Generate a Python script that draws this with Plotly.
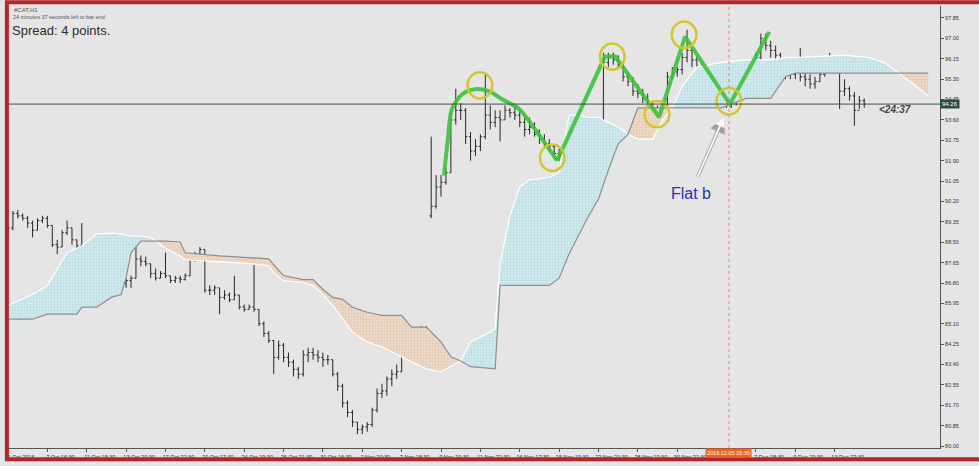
import numpy as np
import plotly.graph_objects as go

# ---- price bars (2-hour bars) ----
bar_open = [
    88.6, 89.1, 89.7, 89.6, 89.5, 89.3, 89.0, 89.4, 89.5, 89.2,
    88.4, 88.3, 88.9, 89.1, 88.6, 88.35, 88.0, 87.7, 87.5, 87.5,
    87.6, 87.5, 87.6, 86.6, 86.8, 86.9, 87.0, 87.8, 87.7, 87.6,
    87.2, 87.0, 87.2, 87.1, 86.9, 87.0, 86.95, 87.1, 87.8, 88.0,
    88.2, 86.5, 86.5, 86.6, 86.2, 86.3, 86.1, 86.3, 85.8, 85.7,
    85.8, 85.7, 85.1, 84.7, 84.4, 83.7, 84.2, 83.7, 83.5, 83.2,
    83.0, 83.8, 83.9, 83.8, 83.7, 83.6, 83.6, 83.0, 82.5, 81.8,
    81.4, 81.0, 80.7, 80.8, 80.9, 81.5, 82.2, 82.3, 82.8, 83.0,
    83.1, 83.8, 84.0, 84.3, 84.7, 84.9, 89.6, 90.0, 90.8, 91.0,
    91.4, 93.6, 94.0, 94.0, 92.9, 92.3, 92.5, 92.9, 93.8, 93.5,
    93.7, 93.6, 94.0, 93.9, 93.8, 93.5, 93.2, 93.3, 93.0, 92.8,
    92.6, 92.5, 92.2, 92.1, 92.4, 93.5, 93.1, 93.0, 93.2, 93.3,
    93.5, 93.5, 96.0, 96.2, 96.1, 95.9, 95.4, 95.2, 94.8, 94.7,
    94.5, 94.3, 94.1, 93.8, 94.0, 95.4, 95.6, 95.7, 96.2, 96.5,
    96.1, 95.6, 95.5, 95.3, 95.2, 94.8, 94.7, 94.4, 94.5, 94.6,
    94.9, 95.2, 95.5, 96.2, 97.0, 96.7, 96.5, 96.3, 95.8, 95.5,
    95.5, 95.6, 95.4, 95.3, 95.1, 95.2, 95.5, 95.9, 96.2, 96.0,
    94.8, 94.9, 94.6, 94.0, 94.4,
]
bar_high = [
    89.2, 89.8, 89.85, 89.7, 89.6, 89.4, 89.5, 89.6, 89.6, 89.2,
    88.6, 89.0, 89.4, 89.1, 88.6, 89.3, 88.3, 87.9, 87.7, 87.7,
    87.7, 87.7, 87.6, 87.0, 87.0, 87.1, 88.4, 87.95, 87.9, 87.6,
    87.4, 87.3, 88.06, 87.1, 87.1, 87.1, 87.2, 87.9, 88.1, 88.3,
    88.2, 86.7, 86.7, 86.6, 86.5, 86.4, 87.1, 86.3, 85.9, 85.9,
    87.56, 85.7, 85.2, 84.8, 84.4, 84.4, 84.3, 83.9, 83.6, 83.3,
    84.0, 84.1, 84.1, 84.0, 83.9, 83.8, 83.6, 83.1, 82.6, 81.9,
    81.5, 81.0, 80.9, 81.0, 81.6, 82.4, 82.6, 82.9, 83.2, 83.4,
    83.9, 84.2, 84.5, 84.9, 85.0, 85.0, 92.9, 91.3, 91.3, 91.6,
    93.9, 94.9, 94.3, 94.1, 93.1, 92.8, 93.0, 95.5, 94.2, 94.0,
    94.0, 94.2, 94.1, 94.2, 94.0, 93.8, 93.7, 93.5, 93.2, 93.0,
    92.8, 92.6, 92.4, 92.5, 93.8, 93.7, 93.3, 93.35, 93.5, 93.6,
    93.6, 96.4, 96.4, 96.4, 96.3, 96.0, 95.6, 95.4, 95.1, 94.9,
    94.7, 94.4, 94.2, 94.1, 95.6, 95.8, 95.8, 96.4, 97.36, 96.6,
    96.3, 96.0, 95.9, 95.6, 95.8, 95.0, 94.75, 94.7, 94.75, 95.0,
    95.3, 95.6, 96.4, 97.2, 97.2, 96.9, 96.7, 96.4, 95.9, 95.7,
    95.7, 96.6, 95.7, 95.5, 95.4, 95.6, 96.0, 96.4, 96.3, 96.0,
    95.3, 95.0, 94.75, 94.6, 94.5,
]
bar_low = [
    88.5, 89.0, 89.5, 89.4, 89.1, 88.7, 89.0, 89.3, 89.1, 88.3,
    88.0, 88.3, 88.8, 88.4, 88.2, 87.7, 87.5, 87.3, 87.15, 87.3,
    87.4, 87.4, 86.3, 86.5, 86.6, 86.6, 87.0, 87.5, 87.5, 87.0,
    86.9, 87.0, 87.0, 86.8, 86.8, 86.8, 86.9, 87.1, 87.7, 87.9,
    86.4, 86.3, 86.3, 85.5, 86.1, 86.0, 86.1, 85.7, 85.6, 85.7,
    85.6, 85.0, 84.55, 84.3, 83.0, 83.6, 83.5, 83.3, 82.9, 82.8,
    82.9, 83.5, 83.6, 83.5, 83.3, 83.4, 82.9, 82.3, 81.6, 81.2,
    80.8, 80.5, 80.5, 80.6, 80.8, 81.4, 82.0, 82.1, 82.5, 82.8,
    83.1, 83.6, 83.8, 84.2, 84.5, 84.7, 89.5, 89.9, 90.4, 90.9,
    91.4, 93.4, 93.6, 92.6, 91.9, 92.1, 92.3, 92.8, 93.2, 93.3,
    92.7, 93.6, 93.7, 93.6, 93.3, 92.9, 93.0, 92.9, 92.6, 92.4,
    92.3, 92.0, 91.9, 91.9, 92.4, 92.9, 92.8, 92.8, 93.1, 93.2,
    93.3, 93.5, 95.8, 95.9, 95.8, 95.2, 95.0, 94.6, 94.5, 94.3,
    94.2, 94.0, 93.6, 93.6, 94.0, 95.3, 95.4, 95.5, 96.0, 95.8,
    95.0, 95.2, 95.0, 95.0, 94.6, 94.5, 94.1, 94.1, 94.2, 94.5,
    94.8, 95.0, 95.4, 96.0, 96.5, 96.2, 96.1, 95.6, 95.3, 95.3,
    95.3, 95.2, 95.0, 94.9, 94.9, 95.2, 95.4, 95.8, 95.9, 94.05,
    94.6, 94.4, 93.35, 94.05, 94.1,
]
bar_close = [
    89.1, 89.7, 89.6, 89.5, 89.3, 89.0, 89.4, 89.5, 89.2, 88.4,
    88.3, 88.9, 89.1, 88.6, 88.35, 88.0, 87.7, 87.5, 87.5, 87.6,
    87.5, 87.6, 86.6, 86.8, 86.9, 87.0, 87.8, 87.7, 87.6, 87.2,
    87.0, 87.2, 87.1, 86.9, 87.0, 86.95, 87.1, 87.8, 88.0, 88.2,
    86.5, 86.5, 86.6, 86.2, 86.3, 86.1, 86.3, 85.8, 85.7, 85.8,
    85.7, 85.1, 84.7, 84.4, 83.7, 84.2, 83.7, 83.5, 83.2, 83.0,
    83.8, 83.9, 83.8, 83.7, 83.6, 83.6, 83.0, 82.5, 81.8, 81.4,
    81.0, 80.7, 80.8, 80.9, 81.5, 82.2, 82.3, 82.8, 83.0, 83.1,
    83.8, 84.0, 84.3, 84.7, 84.9, 84.9, 90.0, 90.8, 91.0, 91.4,
    93.6, 94.0, 94.0, 92.9, 92.3, 92.5, 92.9, 93.8, 93.5, 93.7,
    93.6, 94.0, 93.9, 93.8, 93.5, 93.2, 93.3, 93.0, 92.8, 92.6,
    92.5, 92.2, 92.1, 92.4, 93.5, 93.1, 93.0, 93.2, 93.3, 93.5,
    93.5, 96.0, 96.2, 96.1, 95.9, 95.4, 95.2, 94.8, 94.7, 94.5,
    94.3, 94.1, 93.8, 94.0, 95.4, 95.6, 95.7, 96.2, 96.5, 96.1,
    95.6, 95.5, 95.3, 95.2, 94.8, 94.7, 94.4, 94.5, 94.6, 94.9,
    95.2, 95.5, 96.2, 97.0, 96.7, 96.5, 96.3, 95.8, 95.5, 95.5,
    95.6, 95.4, 95.3, 95.1, 95.2, 95.5, 95.9, 96.2, 96.0, 94.8,
    94.9, 94.6, 94.0, 94.4, 94.26,
]

# ---- ichimoku cloud edges (bar index, span A, span B) ----
cloud_bar = [0, 5, 8, 12, 14, 15, 18, 21, 23, 24, 25, 27, 29, 30, 32, 35, 36, 43,
             50, 53, 54, 56, 60, 62, 64, 66, 68, 70, 73, 76, 80, 82, 85, 88, 90, 92,
             94, 98, 99, 100, 102, 104, 106, 110, 112, 114, 116, 118, 120, 122, 124,
             126, 128, 131, 133, 135, 137, 140, 145, 150, 155, 158, 160, 170, 175,
             178, 181, 184, 187]
span_a = [85.87, 86.32, 86.69, 88.06, 88.26, 88.35, 88.84, 88.88, 88.84, 88.80,
          88.76, 88.76, 88.68, 88.55, 88.26, 87.93, 87.77, 87.69, 87.60, 87.52,
          87.23, 86.90, 86.82, 86.69, 86.32, 85.87, 85.29, 84.75, 84.34, 84.13,
          83.72, 83.51, 83.22, 83.10, 83.31, 83.55, 84.34, 84.75, 84.90, 87.60,
          89.60, 90.80, 91.10, 91.20, 91.40, 93.80, 93.80, 93.70, 93.70, 93.50,
          93.30, 93.00, 92.80, 92.80, 93.60, 94.10, 95.00, 95.80, 96.00, 96.10,
          96.10, 96.20, 96.20, 96.30, 96.20, 96.00, 95.55, 95.10, 94.60]
span_b = [85.29, 85.29, 85.50, 85.50, 85.50, 85.79, 85.79, 86.20, 86.32, 87.02,
          88.06, 88.55, 88.55, 88.55, 88.55, 88.51, 88.06, 87.93, 87.85, 87.81,
          87.56, 87.11, 86.94, 86.94, 86.53, 86.20, 86.12, 85.79, 85.58, 85.45,
          85.45, 84.96, 84.96, 84.34, 83.72, 83.55, 83.31, 83.22, 83.22, 86.70,
          86.70, 86.70, 86.70, 86.70, 87.00, 88.00, 88.80, 89.60, 90.30, 91.50,
          92.60, 93.00, 94.10, 94.10, 94.10, 94.10, 94.10, 94.10, 94.10, 94.50,
          94.50, 95.40, 95.55, 95.55, 95.55, 95.55, 95.55, 95.55, 95.55]

# ---- hand-drawn wave and marked pivots ----
wave_curve_bar = [88.6, 89.4, 90.2, 92.3, 94.9, 97.8, 100.4, 103.9, 108.5, 111.6]
wave_curve_price = [91.28, 92.81, 94.05, 94.67, 94.88, 94.79, 94.46, 94.05, 92.81, 91.90]
wave_line_bar = [111.6, 121.3, 123.4, 132.3, 137.6, 146.7, 154.7]
wave_line_price = [91.90, 96.24, 96.24, 93.72, 97.07, 94.26, 97.27]
pivot_bar = [95.9, 110.6, 122.8, 131.9, 137.4, 146.5]
pivot_price = [95.04, 92.02, 96.24, 93.84, 97.15, 94.38]

tick_labels = ["6 Oct 2016", "7 Oct 16:30", "11 Oct 18:30", "13 Oct 20:30", "17 Oct 22:30",
               "20 Oct 17:30", "24 Oct 19:30", "26 Oct 21:30", "31 Oct 16:30", "2 Nov 20:30",
               "7 Nov 18:30", "9 Nov 20:30", "11 Nov 22:30", "16 Nov 17:30", "18 Nov 19:30",
               "22 Nov 21:30", "28 Nov 19:30", "30 Nov 21:30", "", "7 Dec 18:30",
               "9 Dec 20:30", "13 Dec 22:30"]
tick_bars = list(range(0, 8 * len(tick_labels), 8))

last_price = 94.26
cursor_bar = 146.5
cursor_label = "2016.12.05 15:30"

FONT = "Liberation Sans, Arial, sans-serif"
BG = "#e5e5e5"

a = np.array(span_a)
b = np.array(span_b)
bars = list(range(len(bar_close)))

fig = go.Figure()

# cloud fills: blue where A above B, peach where B above A
fig.add_trace(go.Scatter(x=cloud_bar, y=b, mode="lines", line=dict(width=0), hoverinfo="skip"))
fig.add_trace(go.Scatter(x=cloud_bar, y=np.maximum(a, b), mode="lines", line=dict(width=0),
                         fill="tonexty", fillcolor="#d3e9ed",
                         fillpattern=dict(shape=".", bgcolor="#d8ecef", fgcolor="#9fd0da",
                                          size=3, solidity=0.5),
                         hoverinfo="skip"))
fig.add_trace(go.Scatter(x=cloud_bar, y=b, mode="lines", line=dict(width=0), hoverinfo="skip"))
fig.add_trace(go.Scatter(x=cloud_bar, y=np.minimum(a, b), mode="lines", line=dict(width=0),
                         fill="tonexty", fillcolor="#ecdccb",
                         fillpattern=dict(shape=".", bgcolor="#ebdfd3", fgcolor="#e2b48e",
                                          size=3, solidity=0.5),
                         hoverinfo="skip"))
fig.add_trace(go.Scatter(x=cloud_bar, y=a, mode="lines", line=dict(color="#ffffff", width=1.2),
                         hoverinfo="skip"))
fig.add_trace(go.Scatter(x=cloud_bar, y=b, mode="lines", line=dict(color="#8e8e8e", width=1.2),
                         hoverinfo="skip"))

# price bars
fig.add_trace(go.Ohlc(x=bars, open=bar_open, high=bar_high, low=bar_low, close=bar_close,
                      increasing_line_color="#262626", decreasing_line_color="#262626",
                      line_width=1, tickwidth=0.35, hoverinfo="skip"))

# green wave
fig.add_trace(go.Scatter(x=wave_curve_bar, y=wave_curve_price, mode="lines",
                         line=dict(color="#3cc23c", width=4, shape="spline", smoothing=0.8),
                         opacity=0.9, hoverinfo="skip"))
fig.add_trace(go.Scatter(x=wave_line_bar, y=wave_line_price, mode="lines",
                         line=dict(color="#3cc23c", width=4), opacity=0.9, hoverinfo="skip"))

shapes = []
for px_, pp in zip(pivot_bar, pivot_price):
    shapes.append(dict(type="circle", xref="x", yref="y",
                       x0=px_ - 2.5, x1=px_ + 2.5, y0=pp - 0.55, y1=pp + 0.55,
                       line=dict(color="#d2c62e", width=2.5)))
shapes.append(dict(type="line", xref="paper", yref="y", x0=0, x1=1, y0=last_price, y1=last_price,
                   line=dict(color="#4d4d4d", width=1)))
shapes.append(dict(type="line", xref="x", yref="paper", x0=cursor_bar, x1=cursor_bar, y0=0, y1=1,
                   line=dict(color="#ec8a5e", width=1, dash="dot")))
# red frame of the screenshot
shapes.append(dict(type="rect", xref="paper", yref="paper", x0=-0.0012, x1=1.06, y0=-0.0252, y1=1.0085,
                   line=dict(color="#b3262a", width=4)))

annotations = [
    dict(xref="paper", yref="paper", x=0.004, y=0.99, xanchor="left", yanchor="middle",
         text="#CAT,H1", showarrow=False, font=dict(family=FONT, size=6, color="#555")),
    dict(xref="paper", yref="paper", x=0.003, y=0.975, xanchor="left", yanchor="middle",
         text="24 minutes 37 seconds left to bar end", showarrow=False,
         font=dict(family=FONT, size=5.5, color="#555")),
    dict(xref="paper", yref="paper", x=0.002, y=0.945, xanchor="left", yanchor="middle",
         text="Spread: 4 points.", showarrow=False, font=dict(family=FONT, size=13, color="#2a2a2a")),
    dict(x=180.3, y=94.05, xref="x", yref="y", text="<b><i>&lt;24:37</i></b>", showarrow=False,
         font=dict(family=FONT, size=10, color="#454545")),
    dict(x=138.8, y=90.54, xref="x", yref="y", text="Flat b", showarrow=False,
         font=dict(family=FONT, size=16, color="#2e2eb8")),
    dict(x=145.5, y=93.72, ax=140.0, ay=91.16, xref="x", yref="y", axref="x", ayref="y",
         text="", showarrow=True, arrowhead=2, arrowsize=0.9, arrowwidth=3.5, arrowcolor="#a0a0a0"),
    dict(x=145.5, y=93.72, ax=140.0, ay=91.16, xref="x", yref="y", axref="x", ayref="y",
         text="", showarrow=True, arrowhead=2, arrowsize=1.1, arrowwidth=1.8, arrowcolor="#fbfbfb"),
    dict(xref="paper", yref="y", x=1.0, y=last_price, xanchor="left", yanchor="middle",
         text=f"{last_price:.2f}", showarrow=False, bgcolor="#2f4a46", borderpad=1,
         font=dict(family=FONT, size=6, color="#ffffff")),
    dict(xref="x", yref="paper", x=cursor_bar, y=-0.012, xanchor="center", yanchor="middle",
         text=cursor_label, showarrow=False, bgcolor="#f0641e", borderpad=1,
         font=dict(family=FONT, size=5.5, color="#ffffff")),
]

fig.update_layout(
    width=979, height=466,
    margin=dict(l=8, r=39, t=6, b=14),
    paper_bgcolor=BG, plot_bgcolor=BG,
    showlegend=False, hovermode=False,
    shapes=shapes, annotations=annotations,
    font=dict(family=FONT, size=6, color="#333"),
)
fig.update_xaxes(range=[0, 189.4], rangeslider_visible=False, showgrid=False, zeroline=False,
                 tickmode="array", tickvals=tick_bars, ticktext=tick_labels,
                 ticks="outside", ticklen=3, tickcolor="#555", ticklabelshift=13,
                 tickfont=dict(family=FONT, size=5.5, color="#333"),
                 showline=True, linecolor="#555", linewidth=1)
fig.update_yaxes(range=[79.92, 98.35], side="right", showgrid=False, zeroline=False,
                 tick0=80, dtick=0.85, tickformat=".2f",
                 ticks="outside", ticklen=3, tickcolor="#555",
                 tickfont=dict(family=FONT, size=5.5, color="#333"),
                 showline=True, linecolor="#555", linewidth=1)

# page margin off so the 979x466 figure fills the window exactly
fig.write_html("out.html", config={"displayModeBar": False},
               post_script="document.body.style.margin='0';document.body.style.overflow='hidden';")
